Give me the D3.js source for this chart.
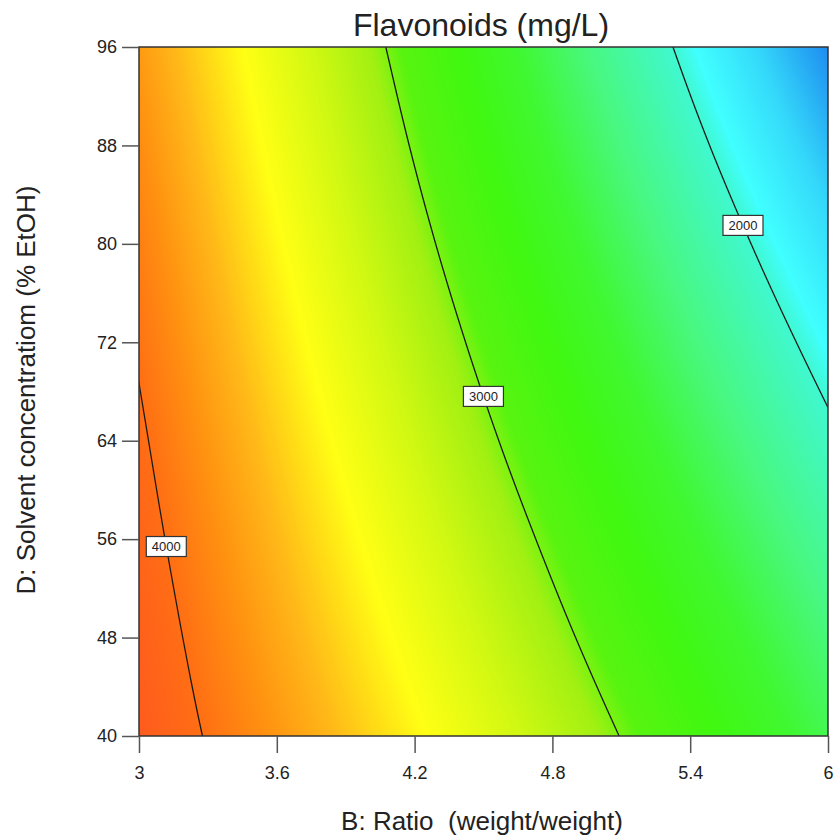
<!DOCTYPE html>
<html>
<head>
<meta charset="utf-8">
<script src="https://cdn.jsdelivr.net/npm/d3@7"></script>
<style>
body { margin: 0; background: #fff; }
svg text { font-family: Arial, "Liberation Sans", sans-serif; fill: #222; }
</style>
</head>
<body>
<div id="chart"></div>
<script>
const title = "Flavonoids (mg/L)";
const xLabel = "B: Ratio  (weight/weight)";
const yLabel = "D: Solvent concentratiom (% EtOH)";
const xTicks = [3, 3.6, 4.2, 4.8, 5.4, 6];
const yTicks = [40, 48, 56, 64, 72, 80, 88, 96];

// response surface on a coarse grid
const ratioGrid = [3, 3.5, 4, 4.5, 5, 5.5, 6];
const solventGrid = [40, 48, 56, 64, 72, 80, 88, 96];
const flavonoids = [
  [4142, 3884, 3617, 3340, 3053, 2756, 2450],
  [4108, 3824, 3536, 3241, 2940, 2634, 2322],
  [4069, 3764, 3455, 3143, 2828, 2509, 2188],
  [4027, 3701, 3373, 3044, 2714, 2382, 2048],
  [3980, 3636, 3292, 2946, 2600, 2252, 1904],
  [3930, 3571, 3211, 2849, 2486, 2121, 1754],
  [3876, 3506, 3133, 2755, 2374, 1988, 1599],
  [3818, 3442, 3058, 2666, 2265, 1856, 1439]
];
const contourLevels = [2000, 3000, 4000];
const labelSolvent = [81.5, 67.6, 55.4];   // where each contour label sits

const colorStops = [1440, 1700, 1920, 2000, 2300, 2550, 2750, 2950, 3050, 3250, 3480, 3700, 3850, 4000, 4150];
const stopColors = ["#1e8cf0", "#34d8fa", "#40ffff", "#40f8d0", "#48f880", "#40f830", "#40f810", "#58f410",
                    "#a0f012", "#d0f812", "#ffff14", "#ffb818", "#ff9210", "#ff6e14", "#ff5a1e"];

const W = 836, H = 839;
const pLeft = 139, pRight = 828, pTop = 47, pBottom = 736;

const x = d3.scaleLinear().domain([3, 6]).range([pLeft, pRight]);
const y = d3.scaleLinear().domain([40, 96]).range([pBottom, pTop]);

// grid value with linear extension past the edges
function gv(i, j) {
  const n = ratioGrid.length, m = solventGrid.length;
  if (i < 0) return gv(0, j) + i * (gv(1, j) - gv(0, j));
  if (i > n - 1) return gv(n - 1, j) + (i - n + 1) * (gv(n - 1, j) - gv(n - 2, j));
  if (j < 0) return gv(i, 0) + j * (gv(i, 1) - gv(i, 0));
  if (j > m - 1) return gv(i, m - 1) + (j - m + 1) * (gv(i, m - 1) - gv(i, m - 2));
  return flavonoids[j][i];
}
function cr(p0, p1, p2, p3, t) {
  return p1 + 0.5 * t * (p2 - p0 + t * (2 * p0 - 5 * p1 + 4 * p2 - p3 + t * (3 * (p1 - p2) + p3 - p0)));
}
function surface(xv, yv) {
  const fx = (xv - ratioGrid[0]) / (ratioGrid[1] - ratioGrid[0]);
  const fy = (yv - solventGrid[0]) / (solventGrid[1] - solventGrid[0]);
  const i = Math.max(0, Math.min(ratioGrid.length - 2, Math.floor(fx)));
  const j = Math.max(0, Math.min(solventGrid.length - 2, Math.floor(fy)));
  const tx = fx - i, ty = fy - j;
  const r = [];
  for (let b = -1; b <= 2; b++) r.push(cr(gv(i - 1, j + b), gv(i, j + b), gv(i + 1, j + b), gv(i + 2, j + b), tx));
  return cr(r[0], r[1], r[2], r[3], ty);
}

// raster over the plot plus a small pad (pad keeps contour borders out of view)
const pad = 10;
const pw = pRight - pLeft, ph = pBottom - pTop;
const rw = pw + 2 * pad, rh = ph + 2 * pad;
const raster = new Float64Array(rw * rh);
for (let j = 0; j < rh; j++) {
  const yv = y.invert(pTop - pad + j + 0.5);
  for (let i = 0; i < rw; i++) {
    raster[j * rw + i] = surface(x.invert(pLeft - pad + i + 0.5), yv);
  }
}

// colour lookup
const color = d3.scaleLinear().domain(colorStops).range(stopColors).clamp(true);
const lo = 1300, hi = 4300, N = 1024;
const lut = d3.range(N).map(k => d3.rgb(color(lo + (hi - lo) * k / (N - 1))));

const canvas = document.createElement("canvas");
canvas.width = pw; canvas.height = ph;
const ctx2 = canvas.getContext("2d");
const img = ctx2.createImageData(pw, ph);
for (let r = 0; r < ph; r++) {
  for (let c = 0; c < pw; c++) {
    const v = raster[(r + pad) * rw + c + pad];
    const k = Math.max(0, Math.min(N - 1, Math.round((v - lo) / (hi - lo) * (N - 1))));
    const col = lut[k], o = (r * pw + c) * 4;
    img.data[o] = col.r; img.data[o + 1] = col.g; img.data[o + 2] = col.b; img.data[o + 3] = 255;
  }
}
ctx2.putImageData(img, 0, 0);

const svg = d3.select("#chart").append("svg")
  .attr("width", W).attr("height", H);

svg.append("defs").append("clipPath").attr("id", "plotclip")
  .append("rect").attr("x", pLeft).attr("y", pTop).attr("width", pw).attr("height", ph);

svg.append("image")
  .attr("x", pLeft).attr("y", pTop).attr("width", pw).attr("height", ph)
  .attr("preserveAspectRatio", "none")
  .attr("href", canvas.toDataURL());

// contour lines
const contours = d3.contours().size([rw, rh]).thresholds(contourLevels)(raster);
const path = d3.geoPath(d3.geoIdentity().translate([pLeft - pad, pTop - pad]));
svg.append("g").attr("clip-path", "url(#plotclip)")
  .selectAll("path").data(contours).join("path")
  .attr("d", path)
  .attr("fill", "none")
  .attr("stroke", "#1a1a1a")
  .attr("stroke-width", 1.3);

// contour labels
function ratioAt(level, sv) {
  let a = 2.5, b = 7;
  for (let k = 0; k < 50; k++) {
    const mid = (a + b) / 2;
    if (surface(mid, sv) > level) a = mid; else b = mid;
  }
  return (a + b) / 2;
}
const labels = svg.append("g").selectAll("g")
  .data(contourLevels.map((lv, k) => ({ level: lv, sv: labelSolvent[k] })))
  .join("g")
  .attr("transform", d => `translate(${x(ratioAt(d.level, d.sv))},${y(d.sv)})`);
labels.append("rect")
  .attr("x", -20).attr("y", -10).attr("width", 40).attr("height", 20)
  .attr("fill", "#fff").attr("stroke", "#333").attr("stroke-width", 1.2);
labels.append("text")
  .attr("text-anchor", "middle").attr("dy", "0.36em")
  .style("font-size", "13px")
  .text(d => d.level);

// frame
svg.append("rect")
  .attr("x", pLeft).attr("y", pTop).attr("width", pw).attr("height", ph)
  .attr("fill", "none").attr("stroke", "#333").attr("stroke-width", 1.5);

// axes
const yAxis = svg.append("g").attr("transform", `translate(${pLeft},0)`)
  .call(d3.axisLeft(y).tickValues(yTicks).tickSize(17).tickPadding(5).tickFormat(d => d));
const xAxis = svg.append("g").attr("transform", `translate(0,${pBottom})`)
  .call(d3.axisBottom(x).tickValues(xTicks).tickSize(17).tickPadding(13).tickFormat(d => d));
[xAxis, yAxis].forEach(a => {
  a.select(".domain").remove();
  a.selectAll(".tick line").attr("stroke", "#555").attr("stroke-width", 1.5);
  a.selectAll(".tick text").style("font-size", "18px").style("font-family", "Arial, 'Liberation Sans', sans-serif").attr("fill", "#222");
});

// titles
svg.append("text")
  .attr("x", 481).attr("y", 36)
  .attr("text-anchor", "middle")
  .style("font-size", "32px")
  .text(title);

svg.append("text")
  .attr("x", 482).attr("y", 830)
  .attr("text-anchor", "middle")
  .attr("xml:space", "preserve")
  .style("white-space", "pre")
  .style("font-size", "26px")
  .text(xLabel);

svg.append("text")
  .attr("transform", "translate(35,390) rotate(-90)")
  .attr("text-anchor", "middle")
  .style("font-size", "26px")
  .text(yLabel);
</script>
</body>
</html>
